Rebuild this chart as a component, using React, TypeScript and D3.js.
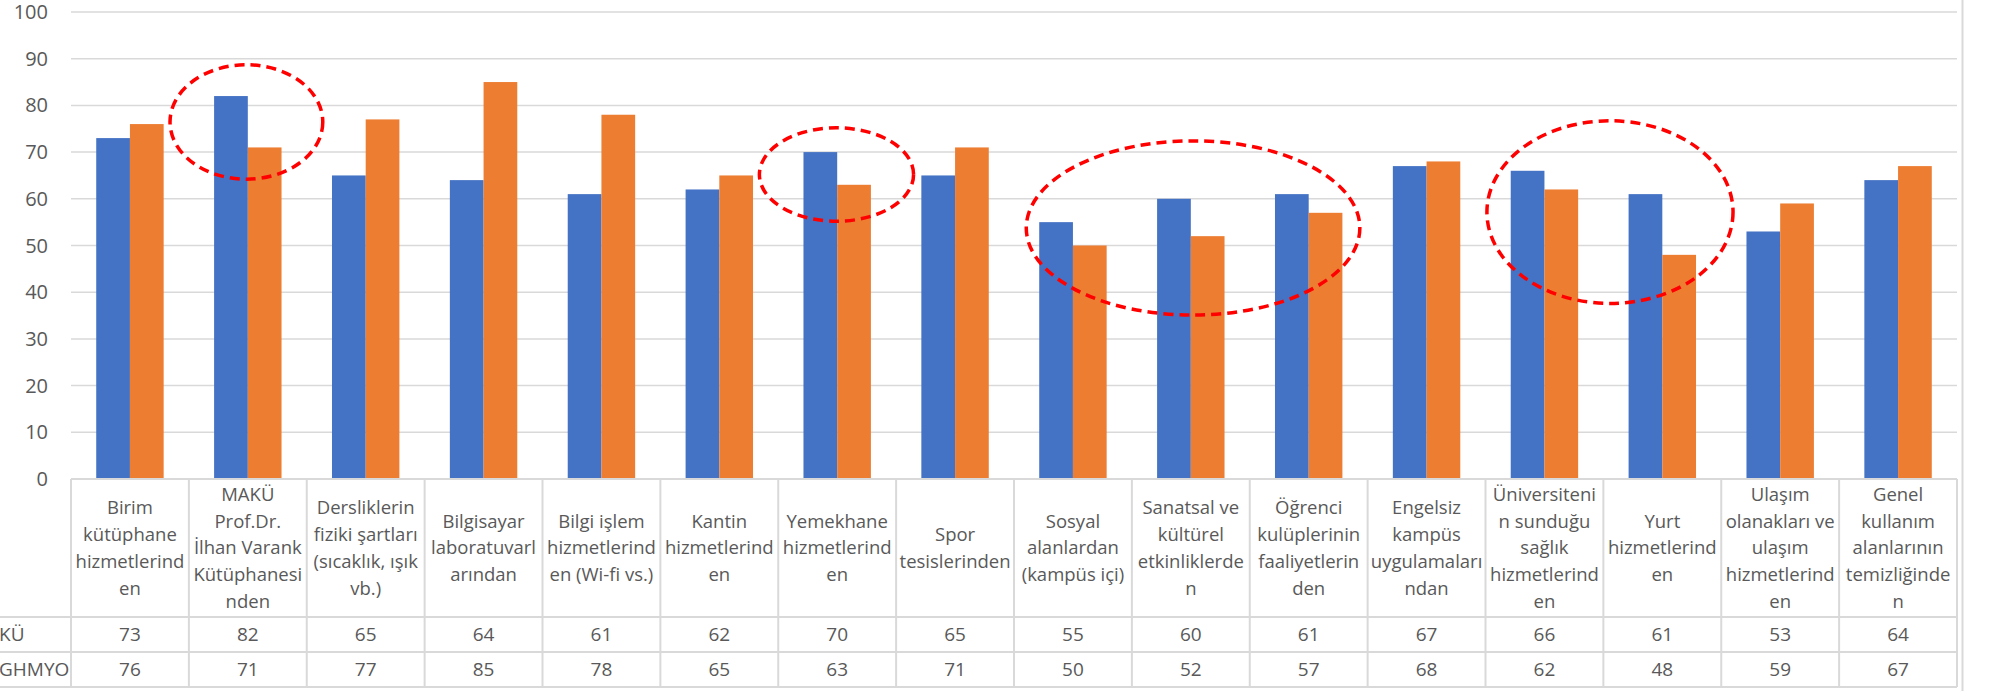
import React, { useEffect, useRef } from 'react';
import * as d3 from 'd3';

// categories (line breaks as in the original wrapped cells)
const categories = [
  'Birim\nkütüphane\nhizmetlerind\nen',
  'MAKÜ\nProf.Dr.\nİlhan Varank\nKütüphanesi\nnden',
  'Dersliklerin\nfiziki şartları\n(sıcaklık, ışık\nvb.)',
  'Bilgisayar\nlaboratuvarl\narından',
  'Bilgi işlem\nhizmetlerind\nen (Wi-fi vs.)',
  'Kantin\nhizmetlerind\nen',
  'Yemekhane\nhizmetlerind\nen',
  'Spor\ntesislerinden',
  'Sosyal\nalanlardan\n(kampüs içi)',
  'Sanatsal ve\nkültürel\netkinliklerde\nn',
  'Öğrenci\nkulüplerinin\nfaaliyetlerin\nden',
  'Engelsiz\nkampüs\nuygulamaları\nndan',
  'Üniversiteni\nn sunduğu\nsağlık\nhizmetlerind\nen',
  'Yurt\nhizmetlerind\nen',
  'Ulaşım\nolanakları ve\nulaşım\nhizmetlerind\nen',
  'Genel\nkullanım\nalanlarının\ntemizliğinde\nn',
];

const seriesNames = ['KÜ', 'GHMYO'];
const seriesA = [73, 82, 65, 64, 61, 62, 70, 65, 55, 60, 61, 67, 66, 61, 53, 64];
const seriesB = [76, 71, 77, 85, 78, 65, 63, 71, 50, 52, 57, 68, 62, 48, 59, 67];
const yTicks = [0, 10, 20, 30, 40, 50, 60, 70, 80, 90, 100];

// red dashed highlight ellipses: centre/radius in category columns, top/bottom in values
const highlights = [
  { col: 1.488, rCol: 0.648, top: 88.7, bottom: 64.2 },
  { col: 6.494, rCol: 0.654, top: 75.2, bottom: 55.2 },
  { col: 9.519, rCol: 1.415, top: 72.4, bottom: 35.1 },
  { col: 13.056, rCol: 1.044, top: 76.7, bottom: 37.6 },
];

const W = 1991;
const H = 691;

export default function App() {
  const ref = useRef<SVGSVGElement>(null);

  useEffect(() => {
    const svg = d3.select(ref.current);
    svg.selectAll('*').remove();

    const left = 71;
    const right = 1957;
    const top = 12;
    const base = 479;
    const headerBottom = 617;
    const rowH = 35;
    const tableBottom = headerBottom + rowH * 2;
    const font = "'Open Sans', 'Noto Sans', sans-serif";
    const textColor = '#595959';
    const lineColor = '#D9D9D9';

    const x = d3.scaleBand<number>()
      .domain(d3.range(categories.length))
      .range([left, right])
      .paddingInner(0.428)
      .paddingOuter(0.214);
    const step = x.step();
    const colX = d3.scaleLinear().domain([0, categories.length]).range([left, right]);

    const y = d3.scaleLinear().domain([0, 100]).range([base, top]);

    // chart area right border
    svg.append('line')
      .attr('x1', 1962.5).attr('x2', 1962.5)
      .attr('y1', 0).attr('y2', H)
      .attr('stroke', lineColor).attr('stroke-width', 2);

    // gridlines
    svg.append('g')
      .selectAll('line')
      .data(yTicks.filter(d => d > 0))
      .enter()
      .append('line')
      .attr('x1', left).attr('x2', right)
      .attr('y1', d => y(d)).attr('y2', d => y(d))
      .attr('stroke', lineColor).attr('stroke-width', 1.5);

    // y tick labels
    svg.append('g')
      .selectAll('text')
      .data(yTicks)
      .enter()
      .append('text')
      .attr('x', 48)
      .attr('y', d => y(d))
      .attr('dy', '0.35em')
      .attr('text-anchor', 'end')
      .style('font-family', font)
      .style('font-size', '20px')
      .style('fill', textColor)
      .text(d => d);

    // bars
    const bw = x.bandwidth() / 2;
    [seriesA, seriesB].forEach((vals, si) => {
      svg.append('g')
        .selectAll('rect')
        .data(vals)
        .enter()
        .append('rect')
        .attr('x', (d, i) => (x(i) as number) + si * bw)
        .attr('y', d => y(d))
        .attr('width', bw)
        .attr('height', d => base - y(d))
        .attr('fill', si === 0 ? '#4472C4' : '#ED7D31');
    });

    // data table grid
    const table = svg.append('g');
    table.append('line')
      .attr('x1', left).attr('x2', right)
      .attr('y1', base).attr('y2', base)
      .attr('stroke', lineColor).attr('stroke-width', 2);
    [headerBottom, headerBottom + rowH, tableBottom].forEach(yy => {
      table.append('line')
        .attr('x1', 0).attr('x2', right)
        .attr('y1', yy).attr('y2', yy)
        .attr('stroke', lineColor).attr('stroke-width', 2);
    });
    d3.range(categories.length + 1).forEach(i => {
      table.append('line')
        .attr('x1', colX(i)).attr('x2', colX(i))
        .attr('y1', base).attr('y2', tableBottom)
        .attr('stroke', lineColor).attr('stroke-width', 2);
    });

    // header text
    const lineH = 26.7;
    const headerMid = (base + headerBottom) / 2;
    categories.forEach((c, i) => {
      const lines = c.split('\n');
      const t = table.append('text')
        .attr('text-anchor', 'middle')
        .style('font-family', font)
        .style('font-size', '18.5px')
        .style('fill', textColor);
      lines.forEach((ln, k) => {
        t.append('tspan')
          .attr('x', colX(i + 0.5))
          .attr('y', headerMid + (k - (lines.length - 1) / 2) * lineH)
          .attr('dy', '0.35em')
          .text(ln);
      });
    });

    // value rows
    [seriesA, seriesB].forEach((vals, si) => {
      const cy = headerBottom + rowH * si + rowH / 2;
      table.append('text')
        .attr('x', -1)
        .attr('y', cy)
        .attr('dy', '0.35em')
        .style('font-family', font)
        .style('font-size', '19px')
        .style('fill', textColor)
        .text(seriesNames[si]);
      table.append('g')
        .selectAll('text')
        .data(vals)
        .enter()
        .append('text')
        .attr('x', (d, i) => colX(i + 0.5))
        .attr('y', cy)
        .attr('dy', '0.35em')
        .attr('text-anchor', 'middle')
        .style('font-family', font)
        .style('font-size', '19px')
        .style('fill', textColor)
        .text(d => d);
    });

    // highlight ellipses
    svg.append('g')
      .selectAll('ellipse')
      .data(highlights)
      .enter()
      .append('ellipse')
      .attr('cx', d => colX(d.col))
      .attr('cy', d => (y(d.top) + y(d.bottom)) / 2)
      .attr('rx', d => d.rCol * step)
      .attr('ry', d => (y(d.bottom) - y(d.top)) / 2)
      .attr('fill', 'none')
      .attr('stroke', '#FF0000')
      .attr('stroke-width', 3.5)
      .attr('stroke-dasharray', '10 6');
  }, []);

  return (
    <svg
      ref={ref}
      width={W}
      height={H}
      style={{ position: 'absolute', left: 0, top: 0, background: '#fff' }}
    />
  );
}
